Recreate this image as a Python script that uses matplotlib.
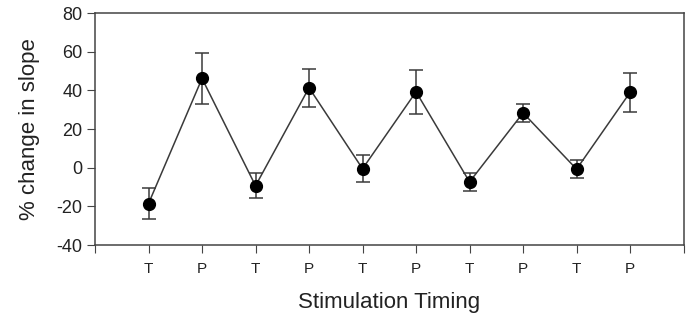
import matplotlib
matplotlib.use("Agg")
import matplotlib.pyplot as plt

# valeurs
labels = ["T", "P", "T", "P", "T", "P", "T", "P", "T", "P"]
moyennes = [-18.5, 46.2, -9.3, 41.4, -0.5, 39.3, -7.3, 28.4, -0.7, 39.0]
erreurs = [8.2, 13.0, 6.5, 9.8, 7.0, 11.5, 4.5, 4.5, 4.8, 10.0]

plt.rcParams['font.family'] = ['Liberation Sans', 'DejaVu Sans']
plt.rcParams['axes.unicode_minus'] = False

fig = plt.figure(figsize=(6.9, 3.2), dpi=100)
ax = fig.add_axes([0.1377, 0.234, 0.853, 0.725])

x = list(range(1, len(labels) + 1))
ax.errorbar(x, moyennes, yerr=erreurs, color="#3a3a3a", lw=1.1,
            ecolor="#3a3a3a", elinewidth=1.1, capsize=5, capthick=1.1,
            marker="o", markersize=8.5, markerfacecolor="black",
            markeredgecolor="black", zorder=3)

ax.set_xlim(0, 11)
ax.set_ylim(-40, 80)
ax.set_xticks([0] + x + [11])
ax.set_xticklabels([""] + labels + [""], fontsize=11, color="#222222")
ax.set_yticks([-40, -20, 0, 20, 40, 60, 80])
ax.tick_params(axis="y", labelsize=13, length=6, color="#444444", labelcolor="#222222", pad=3)
ax.tick_params(axis="x", length=6, color="#444444", pad=6)
for s in ax.spines.values():
    s.set_color("#444444")
    s.set_linewidth(1.1)

ax.set_xlabel("Stimulation Timing", fontsize=16, color="#222222", labelpad=12)
ax.set_ylabel("% change in slope", fontsize=16, color="#222222", labelpad=12)

fig.savefig("out.png", dpi=100)
